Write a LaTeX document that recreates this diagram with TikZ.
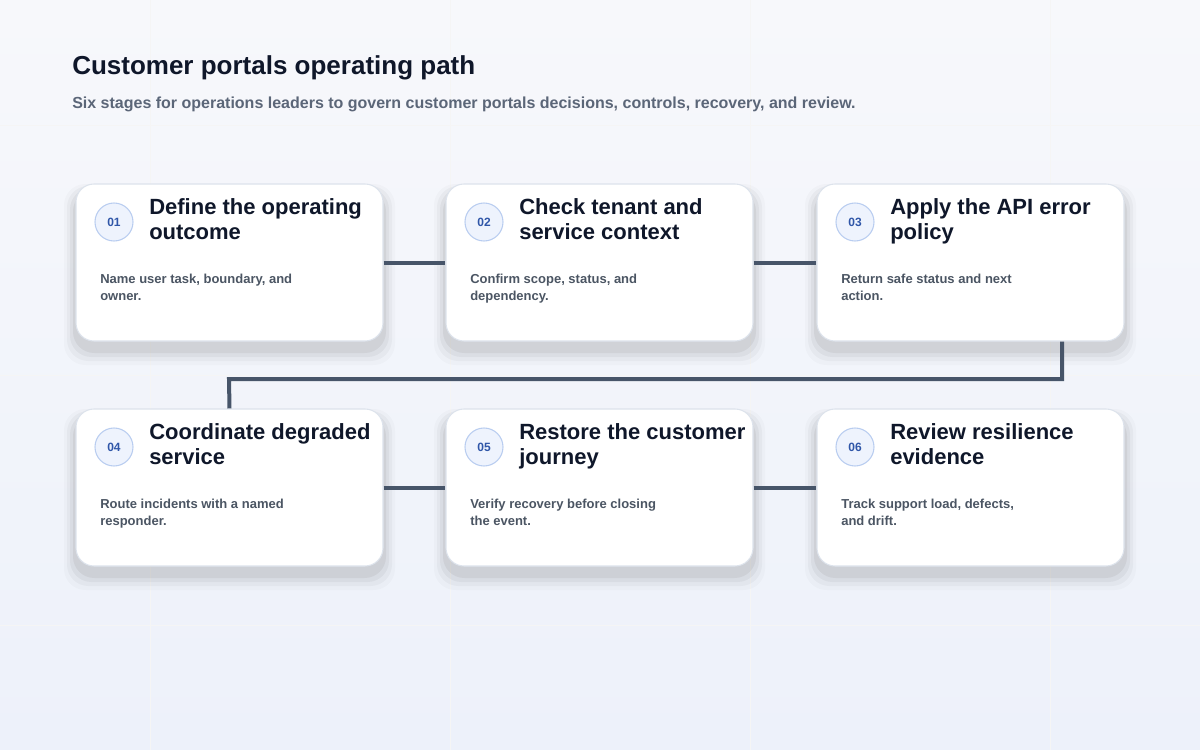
\documentclass[tikz,border=0pt]{standalone}
\usepackage{fontspec}
\setmainfont{Liberation Sans}
\begin{document}
\definecolor{bgA}{HTML}{F7F8FB}
\definecolor{bgB}{HTML}{EDF1FA}
\definecolor{ink}{HTML}{0F172A}
\definecolor{sub}{HTML}{5B6678}
\definecolor{body}{HTML}{4B5563}
\definecolor{conn}{HTML}{475569}
\definecolor{badgefill}{HTML}{EEF3FD}
\definecolor{badgeline}{HTML}{B9CDF0}
\definecolor{badgetext}{HTML}{2F56A8}
\definecolor{cardline}{HTML}{DDE3EC}
\begin{tikzpicture}[x=0.75pt,y=-0.75pt,
  card/.style={draw=cardline,line width=0.8pt,fill=white,rounded corners=13.5pt,minimum width=230.25pt,minimum height=117.75pt,inner sep=0pt},
  badge/.style={circle,fill=badgefill,draw=badgeline,line width=0.8pt,minimum size=28.5pt,inner sep=0pt,font=\bfseries\fontsize{9}{10}\selectfont,text=badgetext},
  ttl/.style={anchor=north west,inner sep=0pt,align=left,font=\bfseries\fontsize{16.5}{18.75}\selectfont,text=ink},
  bdy/.style={anchor=north west,inner sep=0pt,align=left,font=\bfseries\fontsize{9.75}{12.75}\selectfont,text=body},
  link/.style={draw=conn,line width=3pt}]
\shade[top color=bgA,bottom color=bgB] (0,0) rectangle (1200,750);
\useasboundingbox (0,0) rectangle (1200,750);
\foreach \gx in {150,450,750,1050} \draw[black!4,line width=0.6pt] (\gx,0) -- (\gx,750);
\foreach \gy in {125,375,625} \draw[black!4,line width=0.6pt] (0,\gy) -- (1200,\gy);
\node[anchor=west,inner sep=0pt,font=\bfseries\fontsize{19.5}{22}\selectfont,text=ink] (title) at (72,68) {Customer portals operating path};
\node[anchor=west,inner sep=0pt,font=\bfseries\fontsize{12}{14}\selectfont,text=sub] (subtitle) at (72,104) {Six stages for operations leaders to govern customer portals decisions, controls, recovery, and review.};
\foreach \i/\cx/\cy/\ta/\tb/\ba/\bb in {
 1/229.5/262.5/{Define the operating}/{outcome}/{Name user task, boundary, and}/{owner.},
 2/599.5/262.5/{Check tenant and}/{service context}/{Confirm scope, status, and}/{dependency.},
 3/970.5/262.5/{Apply the API error}/{policy}/{Return safe status and next}/{action.},
 4/229.5/487.5/{Coordinate degraded}/{service}/{Route incidents with a named}/{responder.},
 5/599.5/487.5/{Restore the customer}/{journey}/{Verify recovery before closing}/{the event.},
 6/970.5/487.5/{Review resilience}/{evidence}/{Track support load, defects,}/{and drift.}}{
  \foreach \k/\op in {1/0.05,2/0.04,3/0.03,4/0.02}{
    \fill[black,opacity=\op,rounded corners=16pt] (\cx-153.5-\k*3,\cy-78.5+8-\k*2) rectangle (\cx+153.5+\k*3,\cy+78.5+8+\k*4);
  }
  \node[card] (c\i) at (\cx,\cy) {};
  \node[badge] (b\i) at (\cx-115.5,\cy-40.5) {0\i};
  \node[ttl] (t\i) at (\cx-80.5,\cy-64) {\ta\\\tb};
  \node[bdy] (d\i) at (\cx-129.5,\cy+11) {\ba\\\bb};
}
\draw[link] (c1.east) -- (c2.west);
\draw[link] (c2.east) -- (c3.west);
\draw[link] (c4.east) -- (c5.west);
\draw[link] (c5.east) -- (c6.west);
\coordinate (r1) at (1062,379);
\coordinate (r2) at (229,379);
\draw[link] (c3.south -| r1) -- (r1) -- (r2) -- (c4.north);
\end{tikzpicture}
\end{document}
